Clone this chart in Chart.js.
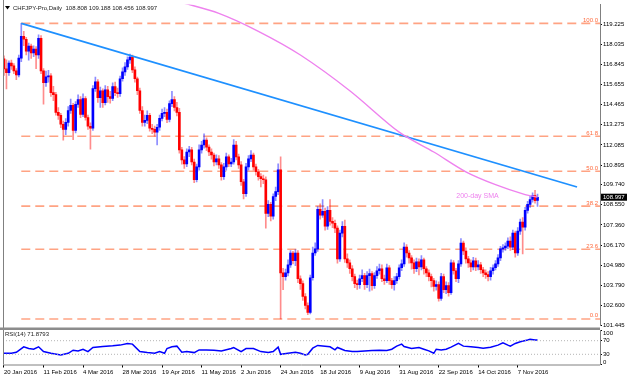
<!DOCTYPE html>
<html>
<head>
<meta charset="utf-8">
<script src="https://cdn.jsdelivr.net/npm/chart.js@4.4.1/dist/chart.umd.min.js"></script>
<style>
  html, body { margin: 0; padding: 0; background: #fff; }
  #wrap { position: relative; width: 628px; height: 381px; overflow: hidden; background: #fff; }
  #main { position: absolute; left: 0; top: 0; }
  #rsi  { position: absolute; left: 0; top: 330px; }
</style>
</head>
<body>
<div id="wrap">
  <canvas id="main" width="628" height="330" style="width:628px;height:330px"></canvas>
  <canvas id="rsi" width="628" height="51" style="width:628px;height:51px"></canvas>
</div>
<script>
/* ---- Data (CHFJPY daily, 20 Jan 2016 .. 17 Nov 2016, one entry per bar) ---- */
const opens = [
  117.17,116.58,116.35,116.93,116.76,116.46,116.23,117.22,118.51,118.33,
  117.63,117.93,117.52,117.75,117.40,118.39,116.46,115.76,116.11,116.17,
  115.18,115.06,114.01,113.83,113.31,113.01,113.42,114.12,114.42,112.95,
  114.48,114.77,113.89,114.83,113.71,113.19,113.07,115.41,115.82,114.88,
  115.29,114.59,115.35,114.94,114.83,115.53,115.18,115.12,116.00,116.40,
  116.70,117.11,117.28,116.52,116.00,115.29,114.12,113.42,113.54,113.83,
  113.07,113.01,112.84,113.13,113.66,113.95,114.01,113.60,114.53,114.77,
  114.30,114.01,111.79,111.20,110.97,111.67,111.79,111.08,110.03,110.79,
  111.79,112.08,112.37,111.96,111.67,111.49,111.08,111.26,110.91,110.21,
  110.79,111.38,110.97,111.08,112.08,111.38,110.91,109.91,109.21,110.79,
  111.26,111.49,110.79,110.50,110.21,110.09,110.03,108.04,108.57,107.87,
  109.04,109.33,110.62,104.53,104.30,104.53,105.00,105.70,105.24,105.70,
  104.18,103.89,103.13,102.60,102.19,104.24,105.70,105.94,108.28,107.93,
  108.16,107.28,108.22,107.57,107.46,107.17,105.35,106.87,107.28,105.35,
  105.12,104.77,104.30,103.89,103.83,104.18,104.36,103.83,104.36,104.48,
  103.77,104.36,104.65,104.77,104.18,104.07,104.83,104.07,103.83,104.07,
  104.30,104.83,105.06,106.05,105.70,105.41,105.12,104.77,105.18,104.88,
  105.29,104.77,104.53,104.30,104.07,103.72,103.83,103.01,104.30,103.54,
  103.77,103.36,105.12,104.65,104.18,105.06,106.29,105.82,105.35,105.12,
  104.88,105.24,104.88,105.00,104.71,104.53,104.42,104.30,104.65,104.83,
  105.06,105.41,105.94,106.00,106.11,106.41,106.05,106.87,105.70,106.99,
  107.52,107.22,108.22,108.57,108.86,109.10,108.808
];
const highs = [
  117.35,117.11,117.05,117.10,116.90,116.60,117.40,119.27,118.80,118.45,
  118.10,118.05,117.95,117.90,118.60,118.55,116.60,116.45,116.50,116.30,
  115.55,115.20,114.30,113.95,113.50,113.65,114.35,114.80,114.55,114.65,
  115.05,114.95,115.10,114.95,113.85,113.40,115.60,116.10,115.95,115.50,
  115.40,115.60,115.55,115.25,115.75,115.80,115.45,116.15,116.65,116.95,
  117.30,117.45,117.40,116.70,116.10,115.45,114.35,113.85,114.10,113.95,
  113.30,113.20,113.30,113.85,114.20,114.30,114.20,114.70,115.25,114.95,
  114.60,114.25,111.95,111.40,111.85,112.00,111.95,111.25,110.95,112.10,
  112.30,112.75,112.50,112.10,111.85,111.60,111.50,111.45,111.05,111.00,
  111.60,111.50,111.30,112.40,112.30,111.55,111.10,110.05,111.00,111.45,
  111.75,111.60,110.95,110.65,110.40,110.30,110.20,108.80,108.70,109.20,
  109.60,110.97,111.38,104.80,104.75,105.30,105.85,105.80,105.90,105.85,
  104.35,104.05,103.30,102.75,104.40,106.05,106.30,108.45,108.60,108.86,
  108.35,108.45,108.86,107.80,107.65,107.30,107.05,107.55,107.65,105.65,
  105.30,104.95,104.45,104.10,104.40,104.70,104.50,104.60,104.75,104.60,
  104.55,104.90,105.05,105.00,104.40,105.05,104.95,104.20,104.30,104.50,
  105.00,105.30,106.30,106.20,105.85,105.55,105.30,105.40,105.35,105.55,
  105.40,104.90,104.70,104.45,104.20,104.05,104.00,104.50,104.45,104.00,
  103.95,105.30,105.25,104.80,105.25,106.55,106.40,106.00,105.50,105.30,
  105.45,105.40,105.25,105.15,104.85,104.70,104.60,104.85,105.00,105.25,
  105.60,106.10,106.20,106.30,106.60,106.65,107.05,107.00,107.20,107.70,
  107.80,108.40,108.75,109.05,109.25,109.40,109.188
];
const lows = [
  116.20,115.40,116.20,116.55,116.30,115.95,116.10,117.00,117.95,117.40,
  117.10,117.20,117.30,116.60,117.20,116.30,114.50,115.55,115.80,114.95,
  114.70,113.85,113.60,113.10,112.37,112.70,113.20,113.95,112.40,112.80,
  114.30,113.70,113.75,113.55,113.00,111.84,112.95,115.25,114.60,114.30,
  114.30,114.45,114.60,114.55,114.70,115.00,114.90,114.95,115.85,116.20,
  116.55,116.90,116.35,115.80,115.05,113.95,113.20,113.20,113.35,112.90,
  112.75,112.60,112.08,112.95,113.50,113.75,113.40,113.45,114.35,114.10,
  113.80,111.60,110.95,110.70,110.80,111.40,110.90,109.85,109.90,110.60,
  111.60,111.90,111.75,111.45,111.25,110.85,110.90,110.70,110.00,110.05,
  110.60,110.80,110.80,110.95,111.20,110.70,109.70,108.90,109.05,110.60,
  111.10,110.60,110.30,110.00,109.60,109.80,107.17,107.85,107.60,107.70,
  108.80,109.15,101.80,103.54,104.10,104.35,104.85,105.05,104.95,103.95,
  103.55,102.90,102.40,102.05,102.10,104.10,105.55,105.80,107.70,107.80,
  107.05,107.10,107.35,107.20,106.90,105.10,105.20,106.65,105.15,104.85,
  104.50,104.05,103.65,103.55,103.60,104.00,103.55,103.65,103.45,103.50,
  103.60,104.20,104.45,104.00,103.85,103.95,103.85,103.60,103.50,103.90,
  104.15,104.65,104.90,105.45,105.10,104.75,104.50,104.60,104.40,104.70,
  104.45,104.30,104.05,103.70,103.45,103.50,102.85,102.90,103.35,103.30,
  103.15,103.25,104.45,104.00,103.95,104.90,105.60,105.10,104.85,104.60,
  104.70,104.65,104.70,104.50,104.30,104.20,104.05,104.10,104.45,104.70,
  104.90,105.25,105.75,105.85,105.95,105.85,105.90,105.45,105.55,106.80,
  105.64,107.05,108.05,108.40,108.70,108.65,108.456
];
const closes = [
  116.58,116.35,116.93,116.76,116.46,116.23,117.22,118.51,118.33,117.63,
  117.93,117.52,117.75,117.40,118.39,116.46,115.76,116.11,116.17,115.18,
  115.06,114.01,113.83,113.31,113.01,113.42,114.12,114.42,112.95,114.48,
  114.77,113.89,114.83,113.71,113.19,113.07,115.41,115.82,114.88,115.29,
  114.59,115.35,114.94,114.83,115.53,115.18,115.12,116.00,116.40,116.70,
  117.11,117.28,116.52,116.00,115.29,114.12,113.42,113.54,113.83,113.07,
  113.01,112.84,113.13,113.66,113.95,114.01,113.60,114.53,114.77,114.30,
  114.01,111.79,111.20,110.97,111.67,111.79,111.08,110.03,110.79,111.79,
  112.08,112.37,111.96,111.67,111.49,111.08,111.26,110.91,110.21,110.79,
  111.38,110.97,111.08,112.08,111.38,110.91,109.91,109.21,110.79,111.26,
  111.49,110.79,110.50,110.21,110.09,110.03,108.04,108.57,107.87,109.04,
  109.33,110.62,104.53,104.30,104.53,105.00,105.70,105.24,105.70,104.18,
  103.89,103.13,102.60,102.19,104.24,105.70,105.94,108.28,107.93,108.16,
  107.28,108.22,107.57,107.46,107.17,105.35,106.87,107.28,105.35,105.12,
  104.77,104.30,103.89,103.83,104.18,104.36,103.83,104.36,104.48,103.77,
  104.36,104.65,104.77,104.18,104.07,104.83,104.07,103.83,104.07,104.30,
  104.83,105.06,106.05,105.70,105.41,105.12,104.77,105.18,104.88,105.29,
  104.77,104.53,104.30,104.07,103.72,103.83,103.01,104.30,103.54,103.77,
  103.36,105.12,104.65,104.18,105.06,106.29,105.82,105.35,105.12,104.88,
  105.24,104.88,105.00,104.71,104.53,104.42,104.30,104.65,104.83,105.06,
  105.41,105.94,106.00,106.11,106.41,106.05,106.87,105.70,106.99,107.52,
  107.22,108.22,108.57,108.86,109.10,108.80,108.997
];

// x-axis labels (one every 16 bars)
const tickBars   = [0, 16, 32, 48, 64, 80, 96, 112, 128, 144, 160, 176, 192, 208];
const tickLabels = ['20 Jan 2016', '11 Feb 2016', '4 Mar 2016', '28 Mar 2016', '19 Apr 2016',
                    '11 May 2016', '2 Jun 2016', '24 Jun 2016', '18 Jul 2016', '9 Aug 2016',
                    '31 Aug 2016', '22 Sep 2016', '14 Oct 2016', '7 Nov 2016'];

// price axis labels
const priceTicks = [119.225, 118.035, 116.845, 115.655, 114.465, 113.275, 112.085, 110.895,
                    109.740, 108.550, 107.360, 106.170, 104.980, 103.790, 102.600, 101.445];

// Fibonacci retracement levels (from the Jan high to the Jun low)
const fibNames  = ['100.0', '61.8', '50.0', '38.2', '23.6', '0.0'];
const fibLevels = [119.27, 112.60, 110.535, 108.47, 105.92, 101.80];
const fibStartBar = 7;

// falling trendline
const trendBars   = [7, 232];
const trendValues = [119.27, 109.60];

// 200-day SMA
const smaBars   = [72, 87, 103, 120, 140, 160, 174, 187, 199, 211, 216];
const smaValues = [120.50, 119.86, 118.80, 117.40, 115.29, 112.84, 111.67, 110.50, 109.74, 109.15, 109.00];

// RSI(14)
const rsiBars = [0,3,5,8,10,12,14,16,19,23,26,28,30,32,34,36,40,44,47,50,52,55,58,61,63,65,66,68,70,72,
                 74,77,79,82,85,88,92,93,96,98,101,104,107,109,111,112,115,118,120,122,123,125,127,130,132,
                 134,135,138,141,143,146,149,152,155,157,159,161,162,165,168,170,172,174,175,177,179,181,184,
                 186,189,192,194,197,200,202,204,205,207,209,212,213,215,216];
const rsiValues = [33,33,36,52,47,45,52,38,33,28,33,42,40,45,38,50,53,55,57,62,60,38,35,33,38,33,47,52,54,36,
                   38,35,43,43,42,40,47,50,38,47,47,38,35,38,51,30,33,36,33,28,30,48,56,54,52,
                   43,50,41,38,38,40,41,42,41,45,54,60,53,47,50,45,40,33,45,43,45,51,62,
                   54,52,50,48,51,57,64,57,54,62,67,72,74,72,71.88];
const rsiLevels = [70, 30];
const rsiAxisTicks = [100, 70, 30, 0];

/* ---- Setup ---- */
const FONT = '"Liberation Sans", Arial, sans-serif';
Chart.defaults.font.family = FONT;
Chart.defaults.font.size   = 6;
Chart.defaults.color       = '#000';

const X_MIN = -0.4, X_MAX = 241.3;
const bars = closes.map((_, i) => i);
const upColor = '#0000ff', downColor = '#ff0000';
const isUp = i => closes[i] >= opens[i];

const hLine = (v, x0 = X_MIN, x1 = X_MAX) => [{ x: x0, y: v }, { x: x1, y: v }];

/* ---- Main price panel ---- */
const mainDecor = {
  id: 'mainDecor',
  afterDraw(chart) {
    const { ctx, chartArea: a, scales: { x, y } } = chart;
    ctx.save();

    // left frame + panel separator
    ctx.strokeStyle = '#808080';
    ctx.lineWidth = 1;
    ctx.beginPath(); ctx.moveTo(a.left + 0.5, 0); ctx.lineTo(a.left + 0.5, chart.height); ctx.stroke();
    ctx.fillStyle = '#8c8c8c';
    ctx.fillRect(0, 327.5, a.right, 2.5);

    // fib labels
    ctx.font = `6px ${FONT}`;
    ctx.fillStyle = '#ff6a3d';
    ctx.textAlign = 'right';
    ctx.textBaseline = 'alphabetic';
    fibLevels.forEach((v, k) => ctx.fillText(fibNames[k], a.right - 2, y.getPixelForValue(v) - 1.5));

    // SMA caption
    ctx.font = `7px ${FONT}`;
    ctx.fillStyle = '#ee82ee';
    ctx.textAlign = 'center';
    ctx.textBaseline = 'middle';
    ctx.fillText('200-day SMA', x.getPixelForValue(191.7), y.getPixelForValue(109.04));

    // last price tag
    const last = closes[closes.length - 1];
    const py = y.getPixelForValue(last);
    ctx.fillStyle = '#000';
    ctx.fillRect(a.right + 1, py - 3.5, 26, 7);
    ctx.fillStyle = '#fff';
    ctx.font = `6px ${FONT}`;
    ctx.textAlign = 'left';
    ctx.fillText(last.toFixed(3), a.right + 3, py + 0.5);

    // title
    ctx.fillStyle = '#000';
    ctx.beginPath(); ctx.moveTo(5, 6); ctx.lineTo(10, 6); ctx.lineTo(7.5, 9.5); ctx.closePath(); ctx.fill();
    ctx.fillStyle = '#1a1a1a';
    ctx.textAlign = 'left';
    const n = closes.length - 1;
    ctx.fillText(`CHFJPY-Pro,Daily  ${opens[n].toFixed(3)} ${highs[n].toFixed(3)} ${lows[n].toFixed(3)} ${closes[n].toFixed(3)}`, 13, 8);
    ctx.restore();
  }
};

const fibSets = fibLevels.map(v => ({
  type: 'line',
  data: hLine(v, fibStartBar),
  borderColor: 'rgba(255,140,100,0.8)',
  borderWidth: 1.6,
  borderDash: [9, 5],
  pointRadius: 0,
  order: 6,
}));

new Chart(document.getElementById('main'), {
  type: 'bar',
  data: {
    datasets: [
      ...fibSets,
      {
        label: 'wick',
        data: bars.map(i => ({ x: i, y: [lows[i], highs[i]] })),
        backgroundColor: bars.map(i => isUp(i) ? 'rgba(0,0,255,0.45)' : 'rgba(255,0,0,0.45)'),
        barThickness: 1,
        grouped: false,
        order: 5,
      },
      {
        label: 'body',
        data: bars.map(i => ({ x: i, y: [opens[i], closes[i]] })),
        backgroundColor: bars.map(i => isUp(i) ? upColor : downColor),
        barThickness: 2,
        minBarLength: 1,
        grouped: false,
        order: 4,
      },
      {
        type: 'line',
        label: 'trend',
        data: trendBars.map((b, k) => ({ x: b, y: trendValues[k] })),
        borderColor: '#1e90ff',
        borderWidth: 1.8,
        pointRadius: 0,
        order: 2,
      },
      {
        type: 'line',
        label: 'sma',
        data: smaBars.map((b, k) => ({ x: b, y: smaValues[k] })),
        borderColor: '#ee82ee',
        borderWidth: 1.4,
        pointRadius: 0,
        tension: 0.3,
        order: 1,
      },
    ],
  },
  options: {
    responsive: false,
    animation: false,
    devicePixelRatio: 1,
    events: [],
    layout: { padding: { left: 3, right: 0, top: 1, bottom: 5 } },
    plugins: { legend: { display: false }, tooltip: { enabled: false } },
    datasets: { line: { clip: 0 }, bar: { clip: 0 } },
    scales: {
      x: { type: 'linear', min: X_MIN, max: X_MAX, offset: false, display: false },
      y: {
        type: 'linear',
        position: 'right',
        min: 101.445,
        max: 120.38,
        afterBuildTicks: s => { s.ticks = priceTicks.map(v => ({ value: v })); },
        afterFit: s => { s.width = 28; },
        ticks: { callback: v => Number(v).toFixed(3), padding: 1, font: { size: 6 }, color: '#000' },
        grid: { drawOnChartArea: false, tickLength: 2, color: '#000' },
        border: { display: true, color: '#808080' },
      },
    },
  },
  plugins: [mainDecor],
});

/* ---- RSI panel ---- */
const rsiDecor = {
  id: 'rsiDecor',
  afterDraw(chart) {
    const { ctx, chartArea: a, scales: { y } } = chart;
    ctx.save();
    ctx.strokeStyle = '#808080';
    ctx.lineWidth = 1;
    ctx.beginPath(); ctx.moveTo(a.left + 0.5, 0); ctx.lineTo(a.left + 0.5, a.bottom); ctx.stroke();
    ctx.beginPath(); ctx.moveTo(a.left, a.bottom + 0.5); ctx.lineTo(a.right, a.bottom + 0.5); ctx.stroke();

    ctx.font = `6px ${FONT}`;
    ctx.fillStyle = '#1a1a1a';
    ctx.textAlign = 'left';
    ctx.textBaseline = 'middle';
    ctx.fillText('RSI(14) 71.8793', a.left + 2, 4.5);

    ctx.fillStyle = '#000';
    rsiAxisTicks.forEach(v => {
      const py = Math.min(Math.max(y.getPixelForValue(v), a.top + 2.5), a.bottom - 2.5);
      ctx.fillText(String(v), a.right + 3, py);
    });
    ctx.restore();
  }
};

new Chart(document.getElementById('rsi'), {
  type: 'line',
  data: {
    datasets: [
      ...rsiLevels.map(v => ({
        data: hLine(v),
        borderColor: '#b4b4b4',
        borderWidth: 1,
        borderDash: [1, 2],
        pointRadius: 0,
      })),
      {
        label: 'RSI',
        data: rsiBars.map((b, k) => ({ x: b, y: rsiValues[k] })),
        borderColor: '#0000ff',
        borderWidth: 1.5,
        pointRadius: 0,
      },
    ],
  },
  options: {
    responsive: false,
    animation: false,
    devicePixelRatio: 1,
    events: [],
    layout: { padding: { left: 3, right: 0, top: 0.5, bottom: 0 } },
    plugins: { legend: { display: false }, tooltip: { enabled: false } },
    datasets: { line: { clip: 0 } },
    scales: {
      x: {
        type: 'linear',
        min: X_MIN,
        max: X_MAX,
        offset: false,
        afterBuildTicks: s => { s.ticks = tickBars.map(v => ({ value: v })); },
        afterFit: s => { s.height = 16.5; },
        ticks: {
          callback: (v, i) => tickLabels[i],
          autoSkip: false,
          maxRotation: 0,
          align: 'start',
          padding: 1,
          font: { size: 6 },
          color: '#000',
        },
        grid: { drawOnChartArea: false, tickLength: 3, color: '#000' },
        border: { display: false },
      },
      y: {
        type: 'linear',
        position: 'right',
        min: 0,
        max: 100,
        afterBuildTicks: s => { s.ticks = rsiAxisTicks.map(v => ({ value: v })); },
        afterFit: s => { s.width = 28; },
        ticks: { display: false },
        grid: { drawOnChartArea: false, tickLength: 2, color: '#000' },
        border: { display: true, color: '#808080' },
      },
    },
  },
  plugins: [rsiDecor],
});
</script>
</body>
</html>
